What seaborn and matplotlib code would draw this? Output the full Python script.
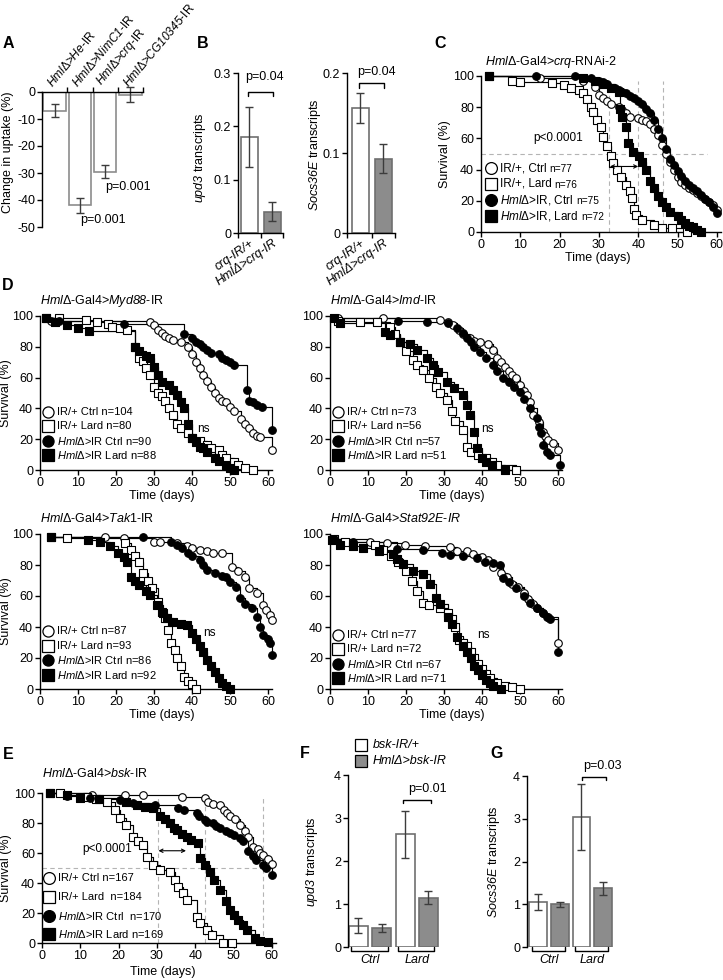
import matplotlib
matplotlib.use("Agg")
import matplotlib.pyplot as plt
from matplotlib.lines import Line2D
import seaborn as sns
import pandas as pd

# ---------------- values ----------------
# A: change in uptake (%)
a_genes = ["He", "NimC1", "crq", "CG10345"]
a_change = [-7.0, -42.0, -29.5, -1.0]
a_sem = [2.4, 2.8, 2.5, 2.8]

# B: transcripts, crq knockdown
b_geno = ["crq-IR/+", "HmlΔ>crq-IR"]
b_upd3 = [0.18, 0.04]
b_upd3_sem = [0.056, 0.018]
b_socs = [0.156, 0.093]
b_socs_sem = [0.019, 0.018]

# F / G: transcripts, bsk knockdown (Ctrl bsk, Ctrl Hml, Lard bsk, Lard Hml)
fg_bars = ["Ctrl bsk", "Ctrl Hml", "Lard bsk", "Lard Hml"]
f_upd3 = [0.50, 0.44, 2.62, 1.15]
f_upd3_sem = [0.17, 0.10, 0.54, 0.15]
g_socs = [1.05, 1.00, 3.05, 1.37]
g_socs_sem = [0.18, 0.06, 0.77, 0.16]

# survival curves: (day, % alive)
c_ir_ctrl = [(2, 100), (15, 99), (26, 97), (29, 93), (30, 88), (31, 86), (32, 84), (33, 82), (35, 80), (36, 78),
             (37, 76), (38, 74), (40, 73), (41, 72), (42, 71), (43, 69), (44, 66), (45, 62), (46, 56), (47, 50),
             (48, 45), (49, 40), (50, 35), (51, 32), (52, 30), (53, 28), (54, 27), (55, 25), (56, 23), (57, 21),
             (58, 19), (59, 17), (60, 14)]
c_hml_ctrl = [(2, 100), (14, 100), (24, 100), (28, 99), (30, 97), (31, 96), (32, 95), (34, 92), (35, 91), (36, 90),
              (37, 89), (38, 87), (39, 86), (40, 84), (41, 82), (42, 79), (43, 76), (44, 72), (45, 66), (46, 60),
              (47, 53), (48, 47), (49, 43), (50, 39), (51, 36), (52, 33), (53, 30), (54, 28), (55, 26), (56, 24),
              (57, 21), (58, 19), (59, 16), (60, 12)]
c_ir_lard = [(2, 100), (8, 97), (10, 96), (18, 95.5), (21, 94), (23, 92), (25, 91), (26, 89), (27, 85), (28, 80),
             (28.5, 77), (29.5, 72), (30.5, 67), (31, 61), (32, 55), (33, 49), (33.5, 44), (34.5, 40), (35.5, 35),
             (37, 30), (38, 26), (38.5, 22), (39, 15), (39.5, 11), (41, 8), (44, 4.5), (46, 2.6), (48.5, 2.6),
             (52.5, 0)]
c_hml_lard = [(2, 100), (26, 99), (29, 97), (31, 95), (33, 92), (35, 90), (35.4, 79), (36, 74), (37, 67), (37.5, 57),
              (38.7, 51), (40.3, 49), (41, 45), (42, 40), (43, 33), (44, 28), (45, 23), (46, 19), (47, 16), (48, 13),
              (50, 10), (51, 8), (52, 6), (53, 4), (54, 3), (55, 1.5), (56, 0)]

d1_ir_ctrl = [(1.5, 99), (3, 97), (29, 96), (30, 94), (31, 91), (32, 89), (33, 87), (34, 86), (35, 84.5), (37, 83),
              (39, 80), (40, 75), (41, 70), (42, 66), (43, 62), (44, 58), (45, 54), (46, 50), (47, 47), (48, 45),
              (49, 44), (50, 41), (51, 38), (53, 33), (54, 30), (55, 27), (56, 24), (57, 22), (58, 21.6), (61, 13)]
d1_hml_ctrl = [(1.5, 99), (5, 97), (22, 95), (38, 88), (40, 86), (41, 83), (42, 82), (43, 80), (44, 78), (45, 76),
               (47, 75), (48, 73), (49, 71.5), (50, 70), (51, 68), (54.5, 52), (55, 45), (56, 44), (57, 42),
               (58.5, 41), (61, 26)]
d1_ir_lard = [(1.5, 99), (5, 99), (12, 97.5), (15, 96), (18, 95), (19, 93), (21, 92), (23, 91), (25, 80), (26, 73),
              (27, 71), (28, 66), (29, 62), (30, 54), (31, 50), (32, 48), (33, 45), (34, 40), (35, 36), (36, 30),
              (37, 27), (39, 24), (40, 21), (42, 19), (44, 16), (45, 14), (47, 13), (48, 10), (49, 8), (51, 5),
              (52, 3), (54, 1.5), (56, 0)]
d1_hml_lard = [(1.5, 99), (4, 96), (7, 94), (10, 92), (13, 90), (25, 80), (26, 77), (28, 74), (29, 73), (30, 67),
               (31, 62), (32, 57), (34, 55), (35, 52), (36, 49), (37, 44), (38, 40), (39, 30), (40, 21), (41, 18),
               (42, 15), (43, 14), (44, 12), (46, 8), (47, 5.6), (49, 3), (50, 1.5), (51, 0)]

d2_ir_ctrl = [(2, 99), (14, 98.7), (29, 97.4), (31, 96), (32.4, 94), (34, 91), (35, 88), (36.8, 85.7), (38, 84),
              (39.5, 83), (41.6, 82), (43, 78), (44, 72.7), (45, 70), (46, 67), (47, 64), (48, 62), (49, 60),
              (50, 55), (51, 51), (51.8, 48.7), (52.5, 44), (53.5, 36), (55, 31), (56, 24.7), (56.5, 22),
              (57.4, 19.5), (58.7, 17.5), (60, 13)]
d2_hml_ctrl = [(1, 99), (18, 97), (25.5, 96), (31, 95.5), (33.4, 92), (35, 89), (36, 86), (37, 83), (38, 80),
               (39.5, 76.6), (41, 73), (43, 68), (44, 64), (45.5, 60), (47, 57), (48.5, 54), (50, 50.6), (51, 46),
               (52.6, 40), (54.4, 33.7), (55, 28), (55.5, 24), (56, 16), (57, 12), (57.8, 9.7), (60.5, 3)]
d2_ir_lard = [(2, 97), (8, 96), (12.4, 96), (15.8, 93), (17, 88), (18.4, 83), (20, 77), (21.9, 71.5), (23, 68),
              (24.5, 65), (26, 60), (28, 54), (29, 50), (30.7, 45.5), (32, 38), (33, 32), (35, 26), (36, 15),
              (37, 12), (39, 10), (41, 8), (42.5, 5), (44, 3), (49, 0)]
d2_hml_lard = [(1, 99), (2.6, 95.5), (14.5, 89.6), (15.8, 87.6), (18.4, 83), (21, 82), (23, 78), (25.5, 72.7),
               (27, 68), (28.4, 63.6), (30.7, 57), (32.5, 53), (35, 48.7), (36, 42), (36.8, 35.7), (38, 24.7),
               (38.6, 14), (40, 7.8), (41, 5), (42.6, 3.2), (46, 0)]

d3_ir_ctrl = [(3, 98), (17, 98), (22, 97.4), (30, 95), (31.6, 95), (36, 94), (38.6, 92), (40, 91), (42, 90), (44, 89),
              (45.6, 88), (48, 87.7), (50.5, 78.7), (52, 76), (54, 72), (55, 65), (57, 62), (58.7, 54), (59.5, 51),
              (60.5, 48), (61, 44.5)]
d3_hml_ctrl = [(3, 98), (27, 98), (34.6, 95), (36, 93), (37.3, 91), (39, 88), (40, 86), (42, 83), (43, 80), (44, 77),
               (46, 75), (48, 73), (49, 72), (50, 69), (51.7, 66), (52.6, 59), (54, 55), (55.7, 52), (57, 46.5),
               (58, 40), (58.7, 35), (60, 32), (60.5, 30), (61, 22)]
d3_ir_lard = [(3, 98), (7, 97.4), (22.4, 94), (24, 90), (25, 86), (26, 82), (27, 75), (28.5, 70), (29.4, 65),
              (31, 56), (32, 50), (32.9, 46), (33.8, 38), (34.6, 30), (35.5, 25), (36, 20), (37, 15), (38, 8),
              (39, 5), (40, 3), (41, 0)]
d3_hml_lard = [(3, 98), (12.7, 96), (15.8, 95), (18.4, 92), (20.5, 87.7), (22, 85), (22.8, 82), (24, 72), (25, 70),
               (26, 67), (28, 63), (29, 60.6), (30.7, 54), (32.4, 49), (33.5, 46), (35, 43), (37, 42), (38.6, 41),
               (40, 36), (41, 32), (42, 28), (43, 24), (44, 19), (45, 15), (46, 11), (47, 7), (48, 4), (49, 2),
               (50, 0)]

d4_ir_ctrl = [(1, 97), (10.5, 95), (15, 94), (19.7, 93), (25, 92), (31.6, 91.6), (33.4, 89), (36, 89), (37.6, 87),
              (40, 85), (41.5, 83), (43, 79), (45, 75), (46.5, 72), (47.9, 68), (49.5, 66), (51, 62), (52, 58),
              (53.4, 55), (54.5, 52), (56, 49), (57.4, 46.5), (60, 29.7)]
d4_hml_ctrl = [(1, 97), (6, 95), (17.6, 90.3), (24.5, 90), (29.4, 88), (31.6, 86.5), (35, 86), (38.6, 84.5),
               (40.8, 82), (43, 81), (44.7, 80), (45.5, 71.6), (47, 69), (49, 65), (51, 60), (52.6, 55.5),
               (54.5, 52), (56, 49), (57, 46.5), (58, 45), (60, 24)]
d4_ir_lard = [(1, 97), (4, 95), (11.8, 93), (14, 90), (16, 86), (18, 82), (20, 76), (21.6, 70), (23, 63),
              (24.5, 55.5), (26, 54), (29, 52), (31, 49), (32, 45), (33, 40), (34, 31.6), (35, 30), (36, 28),
              (37, 24), (38, 20), (39, 16), (40, 13), (41, 10), (42, 7), (44, 4), (46, 2), (48, 1), (50, 0)]
d4_hml_lard = [(0.5, 96), (2.6, 93), (6, 92), (8.7, 91), (13, 89), (16.6, 87), (17.5, 84), (19.2, 80.6),
               (21.9, 76), (24.5, 74), (26.3, 67.7), (28, 59), (29, 55), (31, 46.5), (32, 42), (33.4, 33.5),
               (35, 28), (36, 24), (37, 20), (38, 15), (39, 12), (40, 9), (41, 6), (42, 4), (43, 2), (45, 0)]

e_ir_ctrl = [(2, 100), (13, 99), (21.7, 99), (26.4, 98.7), (36.5, 97.3), (42.5, 96.7), (43.4, 94), (44.7, 93),
             (46.5, 92), (47.5, 89), (48.2, 87), (49, 85), (50.4, 83), (51.7, 78.7), (53, 75), (53.8, 70.7),
             (55, 64), (56.4, 63), (57, 60), (57.7, 58.7), (59, 56), (60, 53)]
e_hml_ctrl = [(2, 100), (6.5, 98), (10, 97.3), (12.5, 96.7), (20.4, 95.3), (22, 94), (23.8, 93.3), (29.5, 92),
              (35.5, 90), (37, 89), (40.4, 87), (41, 85), (42.5, 82), (43, 81), (44.7, 80), (45.5, 78),
              (46.5, 76.7), (48, 75), (49, 73.3), (50, 72), (51.7, 70), (52.5, 68), (53.8, 61.3), (55, 58),
              (56, 55.3), (57.7, 52), (58.5, 50), (60, 45.3)]
e_ir_lard = [(2, 100), (4.7, 100), (11.7, 97.3), (14, 96), (17, 94), (19, 88.7), (20.4, 83.3), (22, 78.7),
             (23.8, 70.7), (25, 68), (26.4, 65.3), (27.4, 57.3), (29, 52), (30.8, 48.7), (33.4, 47.3), (34.7, 42),
             (35.5, 37.3), (36.8, 33.3), (37.8, 28.7), (40.4, 17.3), (41.3, 13.3), (43, 8.7), (44.4, 5.3),
             (47.3, 0), (49.6, 0)]
e_hml_lard = [(2, 100), (6.5, 98.7), (10, 97), (15, 96), (22, 94), (24.8, 92), (27, 91), (29, 90), (30.8, 85),
              (32, 83), (33.4, 80), (34.5, 77), (35.2, 75.3), (36.5, 73), (37.8, 70.7), (39, 69), (40.7, 66.7),
              (41.2, 56.7), (42.5, 52), (43.9, 47.3), (45, 42), (46.5, 35.3), (48, 28), (49, 22), (50, 19),
              (51.2, 15.3), (52.5, 12), (53.5, 8.7), (55.6, 3.3), (57, 1.5), (59, 1)]

# ---------------- style ----------------
sns.set_theme(style="ticks")
plt.rcParams["font.family"] = ["Liberation Sans", "DejaVu Sans"]
plt.rcParams.update({
    "mathtext.fontset": "custom",
    "mathtext.rm": "Liberation Sans",
    "mathtext.it": "Liberation Sans:italic",
    # \mathsf is used for italic runs so that digits are slanted too
    "mathtext.sf": "Liberation Sans:italic",
    "mathtext.bf": "Liberation Sans:bold",
    "axes.unicode_minus": False,
    "axes.linewidth": 1.0,
    "axes.edgecolor": "black",
    "xtick.color": "black", "ytick.color": "black",
    "xtick.major.size": 3.5, "ytick.major.size": 3.5,
    "xtick.major.width": 1.0, "ytick.major.width": 1.0,
    "xtick.major.pad": 1.5, "ytick.major.pad": 1.5,
    "xtick.labelsize": 9, "ytick.labelsize": 9,
    "text.color": "black", "axes.labelcolor": "black",
})

W, H = 723, 980
fig = plt.figure(figsize=(W / 100, H / 100), dpi=100)
fig.patch.set_facecolor("white")
renderer = fig.canvas.get_renderer()


def box(l, t, r, b):
    # axes from pixel edges (top-left origin)
    return fig.add_axes([l / W, 1 - b / H, (r - l) / W, (b - t) / H])


def put(x, y, s, **kw):
    kw.setdefault("fontsize", 9)
    kw.setdefault("ha", "center")
    kw.setdefault("va", "center")
    return fig.text(x / W, 1 - y / H, s, **kw)


def dot(x, y, marker, fc, ms=8):
    fig.add_artist(Line2D([x / W], [1 - y / H], marker=marker, ms=ms, mfc=fc, mec="black",
                          mew=0.9, ls="none", transform=fig.transFigure))


def unclip(cont):
    for art in cont.get_children():
        art.set_clip_on(False)


def it(s):
    return "$\\mathsf{" + s + "}$"


HML = it("Hml") + "Δ"
STYLE = {"ir_ctrl": ("o", "white"), "ir_lard": ("s", "white"),
         "hml_ctrl": ("o", "black"), "hml_lard": ("s", "black")}


def km(ax, curves):
    for key, pts in curves.items():
        d = pd.DataFrame(pts, columns=["day", "surv"])
        sns.lineplot(data=d, x="day", y="surv", drawstyle="steps-post", color="black", lw=0.85,
                     estimator=None, sort=False, ax=ax, clip_on=False)
    for key, pts in curves.items():
        d = pd.DataFrame(pts, columns=["day", "surv"])
        marker, fc = STYLE[key]
        sns.scatterplot(data=d, x="day", y="surv", marker=marker, s=30, color=fc, edgecolor="black",
                        linewidth=0.8, legend=False, ax=ax, clip_on=False, zorder=3)
    ax.set_xlim(0, 61)
    ax.set_ylim(0, 100)
    ax.set_xticks(range(0, 61, 10))
    ax.set_yticks(range(0, 101, 20))
    ax.set_xlabel("")
    ax.set_ylabel("")
    ax.set_facecolor("none")
    sns.despine(ax=ax)


def km_legend(x, y0, dy, labels, ms=8, fs=8, small_n=False):
    for i, (key, lab) in enumerate(zip(STYLE, labels)):
        marker, fc = STYLE[key]
        y = y0 + i * dy
        dot(x, y, marker, fc, ms=ms)
        if small_n:
            head, n = lab.rsplit(" ", 1)
            t = put(x + 9, y, head, ha="left", fontsize=fs)
            bb = t.get_window_extent(renderer=renderer)
            put(bb.x1 + 3, y + 0.5, n, ha="left", fontsize=fs - 1.2)
        else:
            put(x + 9, y, lab, ha="left", fontsize=fs)


def bars(ax, keys, vals, errs, colors, width):
    df = pd.DataFrame({"k": keys, "v": vals})
    sns.barplot(data=df, x="k", y="v", hue="k", palette=dict(zip(keys, colors)), legend=False,
                width=width, saturation=1, edgecolor="#6f6f6f", linewidth=1.2, ax=ax)
    eb = ax.errorbar(range(len(vals)), vals, yerr=errs, fmt="none", ecolor="#3c3c3c",
                     elinewidth=1, capsize=3, capthick=1)
    unclip(eb)
    ax.set_xlabel("")
    ax.set_ylabel("")


def bracket(ax, x0, x1, y, d):
    ax.plot([x0, x0, x1, x1], [y - d, y, y, y - d], color="black", lw=1, clip_on=False)


# ---------------- A ----------------
axA = box(42, 92, 143, 227)
bars(axA, a_genes, a_change, a_sem, ["white"] * 4, 0.9)
for p in axA.patches:
    p.set_edgecolor("#8c8c8c")
axA.set_xlim(-0.5, 3.5)
axA.set_ylim(-50, 0)
axA.spines[["bottom", "right"]].set_visible(False)
axA.xaxis.tick_top()
axA.set_xticks(range(4))
axA.set_xticklabels([HML + ">" + it(g) + "-IR" for g in a_genes], rotation=50, ha="left",
                    va="bottom", rotation_mode="anchor", fontsize=8.6)
axA.tick_params(axis="x", which="major", length=0, pad=2)
axA.set_xticks([0.5, 1.5, 2.5, 3.5], minor=True)
axA.tick_params(axis="x", which="minor", length=3.5, width=1, top=True, bottom=False)
axA.set_yticks(range(-50, 1, 10))
put(8, 152, "Change in uptake (%)", rotation=90)
put(128, 187, "p=0.001")
put(103, 220, "p=0.001")

# ---------------- B ----------------
for (l, r, top, vals, errs, ymax, lab, ly, bx, by, tx, ty) in [
        (238, 283, 73, b_upd3, b_upd3_sem, 0.3, it("upd3") + " transcripts", 158, 0.264, 0.007, 0.65, 0.293),
        (347, 395, 73, b_socs, b_socs_sem, 0.2, it("Socs36E") + " transcripts", 155, 0.1875, 0.006, 0.7, 0.201)]:
    ax = box(l, top, r, 233)
    bars(ax, b_geno, vals, errs, ["white", "#8c8c8c"], 0.74)
    ax.set_ylim(0, ymax)
    lo = -0.48 if ymax > 0.25 else -0.57
    ax.set_xlim(lo, lo + (r - l) / 23)
    ticks = [0, 0.1, 0.2, 0.3][:int(round(ymax * 10)) + 1]
    ax.set_yticks(ticks)
    ax.set_yticklabels([f"{t:g}" for t in ticks])
    ax.set_xticks([0, 1])
    ax.set_xticklabels(b_geno, rotation=35, ha="right", va="top", rotation_mode="anchor",
                       fontsize=9, fontstyle="italic")
    ax.tick_params(axis="x", which="major", length=0, pad=3)
    ax.set_xticks([lo, 0.5, lo + (r - l) / 23], minor=True)
    ax.tick_params(axis="x", which="minor", length=3.5, width=1)
    sns.despine(ax=ax)
    bracket(ax, -0.04, 1.04, bx, by)
    ax.text(tx, ty, "p=0.04", ha="center", va="center", fontsize=9)
    put(200 if ymax > 0.25 else 315, ly, lab, rotation=90)

# ---------------- C ----------------
axC = box(481, 76, 481 + 61 * 3.93, 232)
axC.hlines(50, 0, 57.5, color="#b4b4b4", lw=0.8, ls=(0, (4, 3)), zorder=0)
axC.vlines([32.6, 40, 46.3], 0, 97, color="#b4b4b4", lw=0.8, ls=(0, (4, 3)), zorder=0)
km(axC, {"ir_ctrl": c_ir_ctrl, "ir_lard": c_ir_lard, "hml_ctrl": c_hml_ctrl, "hml_lard": c_hml_lard})
axC.annotate("", xy=(40, 42), xytext=(32.8, 42),
             arrowprops=dict(arrowstyle="<->", lw=0.8, color="black", shrinkA=0, shrinkB=0, mutation_scale=6))
axC.text(19.6, 60, "p<0.0001", ha="center", va="center", fontsize=8.5)
put(485, 62, HML + "-Gal4>" + it("crq") + "-RNAi-2", ha="left")
put(598, 258, "Time (days)")
put(445, 154, "Survival (%)", rotation=90)
km_legend(491, 168, 16, ["IR/+, Ctrl n=77", "IR/+, Lard n=76", HML + ">IR, Ctrl n=75",
                         HML + ">IR, Lard n=72"], ms=8.5, fs=8.5, small_n=True)

# ---------------- D ----------------
d_panels = [
    (40, 316, 470, it("Myd88") + "-IR",
     {"ir_ctrl": d1_ir_ctrl, "ir_lard": d1_ir_lard, "hml_ctrl": d1_hml_ctrl, "hml_lard": d1_hml_lard},
     ["IR/+ Ctrl n=104", "IR/+ Lard n=80", HML + ">IR Ctrl n=90", HML + ">IR Lard n=88"],
     (43, 26.6), 412, 14.3, True),
    (330, 316, 470, it("Imd") + "-IR",
     {"ir_ctrl": d2_ir_ctrl, "ir_lard": d2_ir_lard, "hml_ctrl": d2_hml_ctrl, "hml_lard": d2_hml_lard},
     ["IR/+ Ctrl n=73", "IR/+ Lard n=56", HML + ">IR Ctrl n=57", HML + ">IR Lard n=51"],
     (41.3, 26.6), 412, 14.3, False),
    (40, 534, 689, it("Tak") + "1-IR",
     {"ir_ctrl": d3_ir_ctrl, "ir_lard": d3_ir_lard, "hml_ctrl": d3_hml_ctrl, "hml_lard": d3_hml_lard},
     ["IR/+ Ctrl n=87", "IR/+ Lard n=93", HML + ">IR Ctrl n=86", HML + ">IR Lard n=92"],
     (44.5, 36), 631, 14.7, True),
    (330, 534, 689, it("Stat92E") + "-" + it("IR"),
     {"ir_ctrl": d4_ir_ctrl, "ir_lard": d4_ir_lard, "hml_ctrl": d4_hml_ctrl, "hml_lard": d4_hml_lard},
     ["IR/+ Ctrl n=77", "IR/+ Lard n=72", HML + ">IR Ctrl n=67", HML + ">IR Lard n=71"],
     (40.5, 35), 635, 14.3, False),
]
for (l, t, b, gene, curves, labels, ns_xy, ly0, ldy, ylab) in d_panels:
    ax = box(l, t, l + 61 * 3.8, b)
    km(ax, curves)
    ax.text(ns_xy[0], ns_xy[1], "ns", ha="center", va="center", fontsize=8.5)
    put(l, t - 15, HML + "-Gal4>" + gene, ha="left")
    put(l + 122, b + 26, "Time (days)")
    if ylab:
        put(6, (t + b) / 2, "Survival (%)", rotation=90)
    km_legend(l + 8, ly0, ldy, labels, ms=8)

# ---------------- E ----------------
axE = box(42, 793, 42 + 61 * 3.83, 943)
axE.hlines(50, 0, 58.7, color="#b4b4b4", lw=0.8, ls=(0, (4, 3)), zorder=0)
axE.vlines([30.2, 42.5, 57.7], 0, 97, color="#b4b4b4", lw=0.8, ls=(0, (4, 3)), zorder=0)
km(axE, {"ir_ctrl": e_ir_ctrl, "ir_lard": e_ir_lard, "hml_ctrl": e_hml_ctrl, "hml_lard": e_hml_lard})
axE.annotate("", xy=(37.6, 61.5), xytext=(30.4, 61.5),
             arrowprops=dict(arrowstyle="<->", lw=0.8, color="black", shrinkA=0, shrinkB=0, mutation_scale=6))
axE.text(17, 62.5, "p<0.0001", ha="center", va="center", fontsize=8.5)
put(42, 773, HML + "-Gal4>" + it("bsk") + "-IR", ha="left")
put(163, 972, "Time (days)")
put(6, 868, "Survival (%)", rotation=90)
km_legend(49, 878, 18.8, ["IR/+ Ctrl n=167", "IR/+ Lard  n=184", HML + ">IR Ctrl  n=170",
                          HML + ">IR Lard n=169"], ms=8.5)

# ---------------- F / G ----------------
for (l, t, r, lo, hi, vals, errs, lab, lx, px, py, b0, b1, by, ptxt) in [
        (348, 775, 440, -0.45, 3.5, f_upd3, f_upd3_sem, it("upd3") + " transcripts", 312,
         2.96, 3.68, 1.91, 3.11, 3.42, "p=0.01"),
        (527, 776, 615, -0.51, 3.55, g_socs, g_socs_sem, it("Socs36E") + " transcripts", 494,
         2.95, 4.23, 2.03, 3.13, 3.98, "p=0.03")]:
    ax = box(l, t, r, 947)
    bars(ax, fg_bars, vals, errs, ["white", "#8c8c8c", "white", "#8c8c8c"], 0.82)
    ax.set_xlim(lo, hi)
    ax.set_ylim(0, 4)
    ax.set_yticks(range(5))
    ax.set_xticks([])
    sns.despine(ax=ax, bottom=True)
    for g, x0 in enumerate([0, 2]):
        ax.plot([x0 - 0.3, x0 - 0.3, x0 + 1.25, x0 + 1.25], [0, -0.1, -0.1, 0],
                color="black", lw=1, clip_on=False)
        ax.text(x0 + 0.5, -0.3, ["Ctrl", "Lard"][g], ha="center", va="center", fontsize=9,
                fontstyle="italic")
    bracket(ax, b0, b1, by, 0.07)
    ax.text(px, py, ptxt, ha="center", va="center", fontsize=9)
    put(lx, 862, lab, rotation=90)

dot(361, 745, "s", "white", ms=8)
dot(361, 761, "s", "#8c8c8c", ms=8)
put(373, 745, "bsk-IR/+", ha="left", fontstyle="italic")
put(373, 761, "HmlΔ>bsk-IR", ha="left", fontstyle="italic")

# ---------------- panel letters ----------------
for letter, x, y in [("A", 8, 44), ("B", 203, 44), ("C", 440, 44), ("D", 8, 286),
                     ("E", 8, 754), ("F", 305, 753), ("G", 497, 753)]:
    put(x, y, letter, fontsize=11.5, fontweight="bold")

fig.savefig("out.png", dpi=100)
